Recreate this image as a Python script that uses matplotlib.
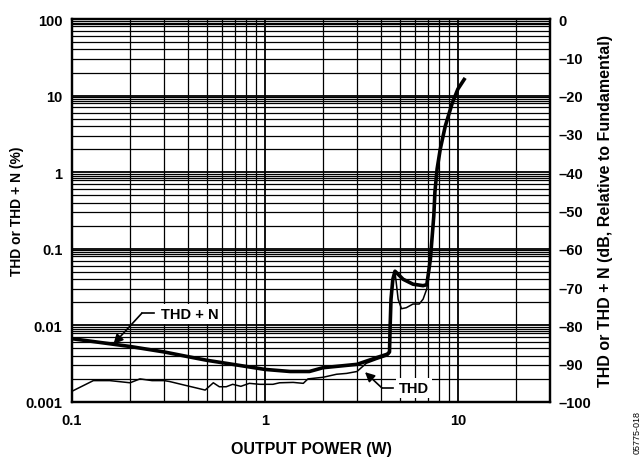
"""THD e THD + N em funcao da potencia de saida (eixo duplo % / dB)."""
import matplotlib
matplotlib.use("Agg")
import matplotlib.pyplot as plt
import numpy as np
from matplotlib.ticker import FixedLocator, NullFormatter

# ---------------------------------------------------------------------------
# Dados
# ---------------------------------------------------------------------------
thdn_w = [0.1, 0.2, 0.3, 0.4, 0.5, 0.68, 1.0, 1.35, 1.7, 2.0, 3.0, 3.8, 4.3,
          4.42, 4.45, 4.5, 4.6, 4.72, 5.2, 5.85, 6.6, 6.9, 7.2, 7.5, 7.6,
          7.8, 8.1, 8.6, 9.35, 10.0, 10.9]
thdn_pct = [0.0067, 0.0053, 0.0045, 0.0039, 0.0035, 0.0031, 0.00266, 0.0025,
            0.0025, 0.0028, 0.0031, 0.0038, 0.0042, 0.0045, 0.009, 0.022,
            0.04, 0.051, 0.04, 0.0345, 0.033, 0.034, 0.073, 0.27, 0.55,
            1.1, 2.0, 4.0, 8.0, 12.2, 17.0]

thd_w = [0.1, 0.129, 0.157, 0.2, 0.225, 0.26, 0.3, 0.32, 0.39, 0.49, 0.54,
         0.58, 0.63, 0.68, 0.75, 0.83, 0.94, 1.1, 1.19, 1.4, 1.58, 1.67, 2.0,
         2.35, 2.65, 3.0, 3.35, 3.8, 4.3, 4.42, 4.45, 4.5, 4.6, 4.72, 4.9,
         5.1, 5.4, 5.85, 6.3, 6.6, 6.9, 7.2]
thd_pct = [0.00138, 0.0019, 0.0019, 0.00178, 0.0020, 0.0019, 0.0019, 0.00185,
           0.00164, 0.00143, 0.00178, 0.00158, 0.00158, 0.0017, 0.0016,
           0.00175, 0.0017, 0.0017, 0.00178, 0.0018, 0.00175, 0.002, 0.0021,
           0.0023, 0.00236, 0.0025, 0.0032, 0.0036, 0.004, 0.0043, 0.009,
           0.022, 0.04, 0.05, 0.022, 0.0165, 0.017, 0.019, 0.019, 0.022,
           0.03, 0.073]

x_ticks = [0.1, 1, 10]
x_tick_labels = ["0.1", "1", "10"]
y_ticks = [0.001, 0.01, 0.1, 1, 10, 100]
y_tick_labels = ["0.001", "0.01", "0.1", "1", "10", "100"]
db_ticks = list(range(-100, 1, 10))

FONT = "Liberation Sans"


def minor_positions(lo_exp, hi_exp, subs):
    out = []
    for e in range(lo_exp, hi_exp):
        out += [s * 10.0 ** e for s in subs]
    return out


# ---------------------------------------------------------------------------
# Plot
# ---------------------------------------------------------------------------
def main():
    plt.rcParams["font.family"] = FONT
    plt.rcParams["font.weight"] = "bold"

    fig = plt.figure(figsize=(6.44, 4.60), dpi=100)
    ax = fig.add_axes([0.1118, 0.124, 0.7422, 0.8325])
    ax.set_xscale("log")
    ax.set_yscale("log")
    ax.set_xlim(0.1, 30)
    ax.set_ylim(0.001, 100)

    ax.xaxis.set_major_locator(FixedLocator(x_ticks))
    ax.set_xticklabels(x_tick_labels)
    ax.yaxis.set_major_locator(FixedLocator(y_ticks))
    ax.set_yticklabels(y_tick_labels)
    ax.xaxis.set_minor_locator(FixedLocator(minor_positions(-1, 2, range(2, 10))))
    ax.yaxis.set_minor_locator(FixedLocator(
        minor_positions(-3, 2, [2, 3, 4, 5, 6, 7, 8, 8.5, 9, 9.5])))
    ax.xaxis.set_minor_formatter(NullFormatter())
    ax.yaxis.set_minor_formatter(NullFormatter())

    ax.grid(True, which="major", color="black", lw=1.3)
    ax.grid(True, which="minor", color="black", lw=0.9)
    ax.set_axisbelow(True)
    ax.tick_params(which="both", length=0, labelsize=10.5)
    ax.tick_params(axis="x", pad=8)
    ax.tick_params(axis="y", pad=7)
    for s in ax.spines.values():
        s.set_linewidth(1.6)

    ax.plot(thd_w, thd_pct, color="black", lw=1.1, zorder=3)
    ax.plot(thdn_w, thdn_pct, color="black", lw=2.6, zorder=4,
            solid_capstyle="butt")

    # anotacoes com caixa branca sobre a grade
    box = dict(boxstyle="square,pad=0.2", fc="white", ec="none")
    ax.text(0.41, 0.0142, "THD + N", ha="center", va="center", fontsize=10.5,
            fontweight="bold", bbox=box, zorder=5)
    ax.plot([0.23, 0.265], [0.0144, 0.0144], color="black", lw=1.2, zorder=5)
    ax.annotate("", xy=(0.164, 0.0057), xytext=(0.23, 0.0144),
                arrowprops=dict(arrowstyle="-|>", color="black", lw=1.2,
                                mutation_scale=14, shrinkA=0, shrinkB=0),
                zorder=5)

    ax.text(5.95, 0.00152, "THD", ha="center", va="center", fontsize=10.5,
            fontweight="bold", bbox=box, zorder=5)
    ax.plot([4.03, 4.6], [0.00153, 0.00153], color="black", lw=1.2, zorder=5)
    ax.annotate("", xy=(3.3, 0.00245), xytext=(4.03, 0.00153),
                arrowprops=dict(arrowstyle="-|>", color="black", lw=1.2,
                                mutation_scale=14, shrinkA=0, shrinkB=0),
                zorder=5)

    ax.set_xlabel("OUTPUT POWER (W)", fontsize=11.5, fontweight="bold",
                  labelpad=10)
    ax.set_ylabel("THD or THD + N (%)", fontsize=10, fontweight="bold",
                  labelpad=1)

    # eixo direito em dB
    ax2 = ax.twinx()
    ax2.set_ylim(-100, 0)
    ax2.set_yticks(db_ticks)
    ax2.set_yticklabels([str(v).replace("-", "\u2013") for v in db_ticks])
    ax2.tick_params(length=0, labelsize=10.5, pad=6)
    ax2.set_ylabel("THD or THD + N (dB, Relative to Fundamental)",
                   fontsize=11.5, fontweight="bold", labelpad=5)
    for s in ax2.spines.values():
        s.set_linewidth(1.6)

    fig.text(0.99, 0.06, "05775-018", rotation=90, fontsize=6.5,
             fontweight="normal", ha="center", va="center")

    fig.savefig("out.png", dpi=100)
    plt.close(fig)


if __name__ == "__main__":
    main()
